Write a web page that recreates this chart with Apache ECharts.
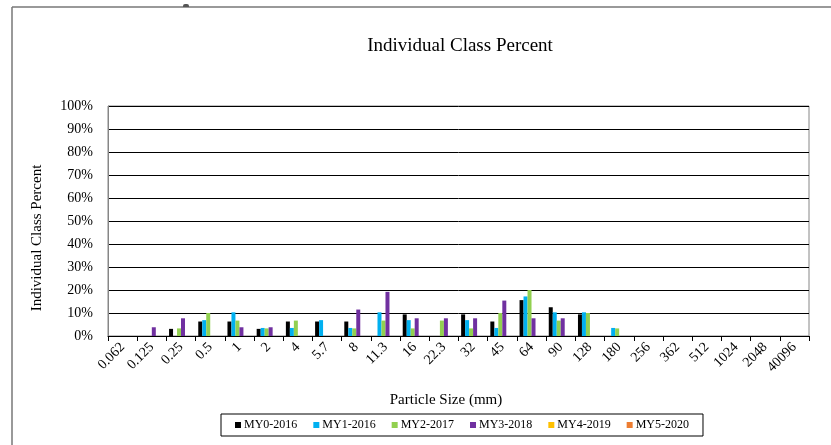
<!DOCTYPE html>
<html>
<head>
<meta charset="utf-8">
<script src="https://cdn.jsdelivr.net/npm/echarts@6/dist/echarts.min.js"></script>
<style>html,body{margin:0;padding:0;background:#fff;}#c{width:831px;height:445px;}</style>
</head>
<body>
<div id="c"></div>
<script>
const categories = ['0.062','0.125','0.25','0.5','1','2','4','5.7','8','11.3','16','22.3','32','45','64','90','128','180','256','362','512','1024','2048','40096'];
const seriesNames = ['MY0-2016','MY1-2016','MY2-2017','MY3-2018','MY4-2019','MY5-2020'];
const my0 = [0,0,3.1,6.3,6.3,3.1,6.3,6.3,6.3,0,9.4,0,9.4,6.3,15.6,12.5,9.4,0,0,0,0,0,0,0];
const my1 = [0,0,0,6.9,10.3,3.5,3.5,6.9,3.5,10.3,6.9,0,6.9,3.5,17.2,10.3,10.3,3.5,0,0,0,0,0,0];
const my2 = [0,0,3.3,10,6.7,3.3,6.7,0,3.3,6.7,3.3,6.7,3.3,10,20,6.7,10,3.3,0,0,0,0,0,0];
const my3 = [0,3.8,7.7,0,3.8,3.8,0,0,11.5,19.2,7.7,7.7,7.7,15.4,7.7,7.7,0,0,0,0,0,0,0,0];
const my4 = [0,0,0,0,0,0,0,0,0,0,0,0,0,0,0,0,0,0,0,0,0,0,0,0];
const my5 = [0,0,0,0,0,0,0,0,0,0,0,0,0,0,0,0,0,0,0,0,0,0,0,0];
const yTicks = [0,10,20,30,40,50,60,70,80,90,100];
const colors = ['#000000','#00B0F0','#92D050','#7030A0','#FFC000','#ED7D31'];
const allData = [my0,my1,my2,my3,my4,my5];

const font = 'Liberation Serif';
const chart = echarts.init(document.getElementById('c'));
chart.setOption({
  animation: false,
  color: colors,
  legend: {
    data: seriesNames,
    left: 221, top: 414,
    icon: 'rect', itemWidth: 6, itemHeight: 6, itemGap: 16,
    borderColor: '#000', borderWidth: 1, padding: [5, 14, 5, 14],
    textStyle: {fontFamily: font, fontSize: 12, color: '#000', padding: [0,0,0,-2]}
  },
  grid: {left: 108, right: 22, top: 106, bottom: 109, show: true, borderColor: '#868686', borderWidth: 1},
  xAxis: {
    type: 'category', data: categories,
    axisLine: {lineStyle: {color: '#000', width: 1}},
    axisTick: {show: true, alignWithLabel: false, length: 5, lineStyle: {color: '#000'}},
    axisLabel: {rotate: 45, margin: 9, fontFamily: font, fontSize: 14, color: '#000', interval: 0}
  },
  yAxis: {
    type: 'value', min: yTicks[0], max: yTicks[yTicks.length-1], interval: 10,
    axisLine: {show: true, lineStyle: {color: '#868686'}},
    axisTick: {show: false},
    axisLabel: {margin: 15, fontFamily: font, fontSize: 14, color: '#000', formatter: '{value}%'},
    splitLine: {show: true, lineStyle: {color: '#000', width: 1}}
  },
  series: seriesNames.map((n, i) => ({
    name: n, type: 'bar', data: allData[i],
    barGap: '0%', barCategoryGap: '18%',
    itemStyle: {color: colors[i]}
  })),
  graphic: [
    {type: 'text', x: 460, y: 46, style: {text: 'Individual Class Percent', font: '19px "Liberation Serif"', fill: '#000', align: 'center', verticalAlign: 'middle'}},
    {type: 'text', x: 446, y: 400, style: {text: 'Particle Size (mm)', font: '15px "Liberation Serif"', fill: '#000', align: 'center', verticalAlign: 'middle'}},
    {type: 'text', x: 37, y: 238, rotation: Math.PI / 2, style: {text: 'Individual Class Percent', font: '15px "Liberation Serif"', fill: '#000', align: 'center', verticalAlign: 'middle'}},
    {type: 'line', shape: {x1: 12, y1: 7, x2: 831, y2: 7}, style: {stroke: '#777', lineWidth: 1.5}},
    {type: 'line', shape: {x1: 12, y1: 7, x2: 12, y2: 445}, style: {stroke: '#777', lineWidth: 1.5}},
    {type: 'rect', shape: {x: 183, y: 4, width: 6, height: 3, r: [2,2,0,0]}, style: {fill: '#555'}}
  ]
});
</script>
</body>
</html>
